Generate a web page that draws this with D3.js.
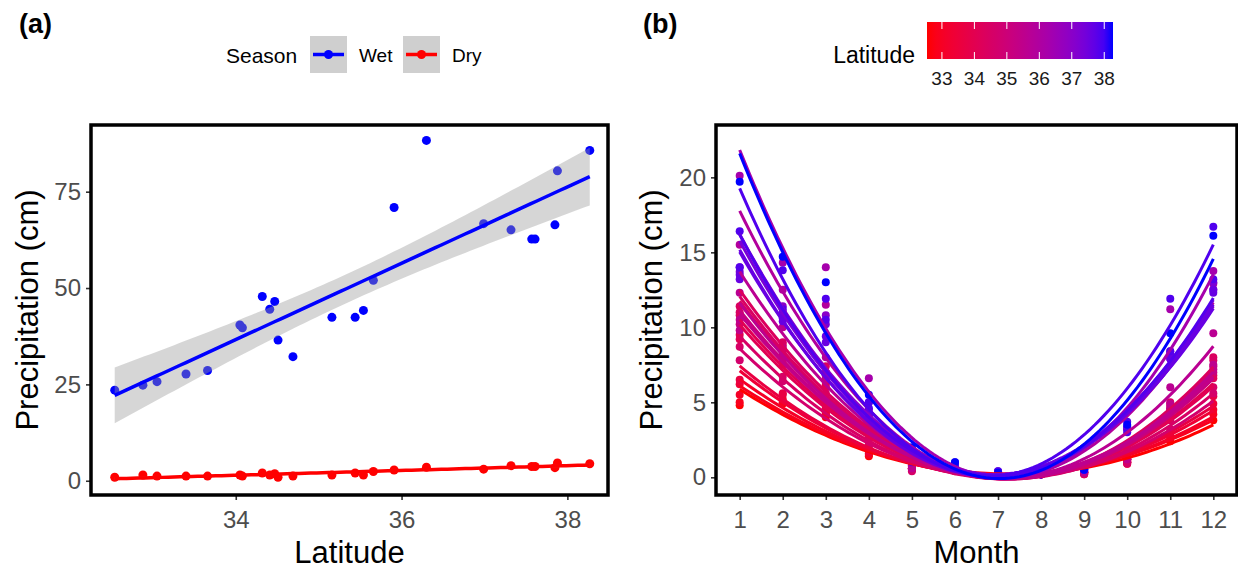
<!DOCTYPE html>
<html><head><meta charset="utf-8">
<script src="https://cdn.jsdelivr.net/npm/d3@7"></script>
<style>body{margin:0;background:#fff;} text{font-family:"Liberation Sans", Arial, sans-serif;}</style>
</head><body><svg id="chart" width="1238" height="575"></svg>
<script>
// ---------------- data ----------------
const latitude = [32.54, 32.88, 33.05, 33.40, 33.66, 34.05, 34.08, 34.32, 34.41, 34.47, 34.51, 34.69, 35.16,
                  35.44, 35.54, 35.66, 35.91, 36.30, 36.99, 37.32, 37.57, 37.61, 37.85, 37.88, 38.27];
const wetPrecip = [23.5, 24.8, 25.7, 27.7, 28.6, 40.4, 39.7, 47.8, 44.5, 46.5, 36.5, 32.2, 42.4,
                   42.4, 44.2, 52.0, 70.9, 88.3, 66.7, 65.1, 62.7, 62.7, 66.4, 80.4, 85.7];
const dryPrecip = [0.9, 1.5, 1.2, 1.2, 1.2, 1.5, 1.2, 2.0, 1.5, 1.8, 0.9, 1.2, 1.5,
                   2.0, 1.5, 2.4, 2.8, 3.5, 3.0, 3.9, 3.7, 3.7, 3.4, 4.6, 4.4];
const seasons = ["Wet", "Dry"];
const latTicks = [34, 36, 38];
const precipTicksA = [0, 25, 50, 75];
const months = [1, 2, 3, 4, 5, 6, 7, 8, 9, 10, 11, 12];
const precipTicksB = [0, 5, 10, 15, 20];
const colorbarTicks = [33, 34, 35, 36, 37, 38];
// monthly precipitation (cm), Jan..Dec, one row per station (same order as latitude)
const monthlyPrecip = [
  [4.8, 4.9, 4.0, 1.4, 0.5, 0.4, 0.3, 0.2, 0.3, 0.9, 2.4, 3.8],
  [5.0, 5.0, 4.2, 1.5, 0.7, 0.5, 0.3, 0.2, 0.3, 1.2, 2.6, 4.2],
  [5.5, 5.2, 4.3, 1.6, 0.6, 0.5, 0.3, 0.2, 0.2, 1.0, 2.7, 4.5],
  [6.2, 5.5, 4.4, 1.7, 0.5, 0.5, 0.3, 0.2, 0.3, 1.1, 2.9, 4.9],
  [6.5, 5.6, 4.6, 1.8, 0.6, 0.5, 0.3, 0.2, 0.3, 1.0, 3.0, 5.4],
  [9.5, 7.8, 6.2, 2.6, 0.7, 0.6, 0.3, 0.2, 0.3, 1.1, 4.2, 6.8],
  [9.2, 7.5, 6.0, 2.5, 0.6, 0.5, 0.3, 0.2, 0.3, 1.0, 4.1, 6.6],
  [11.4, 9.0, 7.4, 3.2, 0.9, 0.7, 0.3, 0.2, 0.4, 1.2, 5.0, 8.0],
  [10.8, 8.5, 6.8, 3.0, 0.6, 0.6, 0.3, 0.2, 0.3, 1.2, 4.6, 7.4],
  [11.0, 8.8, 7.0, 3.0, 0.8, 0.6, 0.3, 0.2, 0.3, 1.3, 4.8, 7.8],
  [8.7, 6.7, 5.6, 2.2, 0.4, 0.5, 0.3, 0.2, 0.2, 0.9, 3.8, 6.0],
  [7.8, 6.4, 5.0, 2.0, 0.5, 0.5, 0.3, 0.2, 0.3, 1.0, 3.2, 5.6],
  [10.2, 8.2, 6.5, 2.6, 0.6, 0.6, 0.3, 0.2, 0.3, 1.2, 4.5, 7.0],
  [9.8, 8.0, 6.6, 2.8, 0.8, 0.7, 0.3, 0.2, 0.4, 1.5, 4.6, 7.2],
  [10.5, 8.6, 6.8, 2.8, 0.6, 0.6, 0.3, 0.2, 0.3, 1.2, 4.9, 7.5],
  [12.3, 10.0, 8.0, 3.5, 1.0, 0.7, 0.3, 0.2, 0.4, 1.5, 6.0, 9.6],
  [15.5, 12.5, 11.5, 5.0, 1.0, 0.8, 0.3, 0.2, 0.5, 1.8, 8.4, 12.9],
  [20.1, 14.3, 14.0, 6.6, 1.2, 0.9, 0.3, 0.2, 0.5, 2.0, 11.2, 13.75],
  [14.0, 11.4, 10.8, 4.5, 1.2, 0.8, 0.3, 0.2, 0.5, 3.2, 7.9, 12.5],
  [13.7, 11.0, 10.2, 4.2, 1.3, 0.9, 0.4, 0.2, 0.6, 3.4, 8.2, 13.0],
  [13.5, 10.6, 9.0, 4.0, 1.2, 0.8, 0.3, 0.2, 0.5, 3.3, 8.0, 12.5],
  [13.2, 10.4, 9.4, 4.2, 1.3, 0.8, 0.3, 0.2, 0.5, 3.2, 7.9, 12.3],
  [14.0, 11.2, 10.5, 4.6, 1.0, 0.8, 0.3, 0.2, 0.5, 3.0, 8.4, 13.2],
  [16.4, 13.8, 11.9, 5.0, 1.5, 1.0, 0.4, 0.2, 0.6, 3.7, 11.9, 16.7],
  [19.7, 14.7, 13.0, 5.5, 2.0, 1.0, 0.3, 0.2, 0.5, 3.5, 9.6, 16.1]
];

// ---------------- helpers ----------------
const T975 = 2.0687; // t quantile, df = 23
function linFit(xs, ys) {
  const n = xs.length, xb = d3.mean(xs), yb = d3.mean(ys);
  let sxx = 0, sxy = 0;
  xs.forEach((x, i) => { sxx += (x - xb) ** 2; sxy += (x - xb) * (ys[i] - yb); });
  const b = sxy / sxx, a = yb - b * xb;
  let sse = 0; xs.forEach((x, i) => { sse += (ys[i] - a - b * x) ** 2; });
  const s = Math.sqrt(sse / (n - 2));
  return { f: x => a + b * x, se: x => s * Math.sqrt(1 / n + (x - xb) ** 2 / sxx) };
}
function quadFit(xs, ys) {
  const S = k => d3.sum(xs, x => x ** k);
  const Y = k => d3.sum(xs, (x, i) => ys[i] * x ** k);
  const M = [[S(0), S(1), S(2), Y(0)], [S(1), S(2), S(3), Y(1)], [S(2), S(3), S(4), Y(2)]];
  for (let i = 0; i < 3; i++) {
    for (let j = i + 1; j < 3; j++) {
      const r = M[j][i] / M[i][i];
      for (let k = i; k < 4; k++) M[j][k] -= r * M[i][k];
    }
  }
  const c = [0, 0, 0];
  for (let i = 2; i >= 0; i--) {
    let v = M[i][3];
    for (let k = i + 1; k < 3; k++) v -= M[i][k] * c[k];
    c[i] = v / M[i][i];
  }
  return x => c[0] + c[1] * x + c[2] * x * x;
}

const svg = d3.select("#chart");
const FONT = "'Liberation Sans', Arial, sans-serif";
const tickCol = "#4D4D4D";

function drawAxes(g, x, y, xt, yt, L, R, T, B, xTitle, yTitleX) {
  const xa = d3.axisBottom(x).tickValues(xt).tickSize(5).tickPadding(6).tickFormat(d3.format("d"));
  const ya = d3.axisLeft(y).tickValues(yt).tickSize(5).tickPadding(5).tickFormat(d3.format("d"));
  const gx = g.append("g").attr("transform", `translate(0,${B})`).call(xa);
  const gy = g.append("g").attr("transform", `translate(${L},0)`).call(ya);
  [gx, gy].forEach(a => {
    a.select(".domain").remove();
    a.selectAll(".tick line").attr("stroke", "#333").attr("stroke-width", 1.6);
    a.selectAll(".tick text").attr("fill", tickCol).style("font-size", "24px").style("font-family", FONT);
  });
  gx.selectAll(".tick text").attr("dy", "0.9em");
  g.append("rect").attr("x", L).attr("y", T).attr("width", R - L).attr("height", B - T)
    .attr("fill", "none").attr("stroke", "#000").attr("stroke-width", 3.5);
  g.append("text").attr("x", (L + R) / 2).attr("y", 563).attr("text-anchor", "middle")
    .style("font-size", "31px").attr("fill", "#000").text(xTitle);
  g.append("text").attr("transform", `translate(${yTitleX},${(T + B) / 2}) rotate(-90)`)
    .attr("text-anchor", "middle").attr("dy", "0.35em")
    .style("font-size", "31px").attr("fill", "#000").text("Precipitation (cm)");
}

// ---------------- panel (a) ----------------
{
  const L = 91, R = 608, T = 125, B = 495;
  const x = d3.scaleLinear().domain([32.254, 38.49]).range([L, R]);
  const y = d3.scaleLinear().domain([-3.7, 92.3]).range([B, T]);
  const g = svg.append("g");
  const seriesVals = [wetPrecip, dryPrecip];
  const seriesCol = ["#0000FF", "#FF0000"];
  const lx = d3.extent(latitude);
  const xsLine = d3.range(0, 81).map(i => lx[0] + (lx[1] - lx[0]) * i / 80);
  seriesVals.forEach((vals, si) => {
    g.selectAll(null).data(latitude).enter().append("circle")
      .attr("cx", d => x(d)).attr("cy", (d, i) => y(vals[i])).attr("r", 4.5)
      .attr("fill", seriesCol[si]);
  });
  seriesVals.forEach((vals, si) => {
    const fit = linFit(latitude, vals);
    const area = d3.area().x(d => x(d)).y0(d => y(fit.f(d) - T975 * fit.se(d))).y1(d => y(fit.f(d) + T975 * fit.se(d)));
    g.append("path").attr("d", area(xsLine)).attr("fill", "rgb(153,153,153)").attr("fill-opacity", 0.4);
    const line = d3.line().x(d => x(d)).y(d => y(fit.f(d)));
    g.append("path").attr("d", line(xsLine)).attr("fill", "none").attr("stroke", seriesCol[si]).attr("stroke-width", 3.5);
  });
  drawAxes(g, x, y, latTicks, precipTicksA, L, R, T, B, "Latitude", 27);

  svg.append("text").attr("x", 19).attr("y", 33).style("font-size", "27px").style("font-weight", "bold").text("(a)");
  const lg = svg.append("g");
  lg.append("text").attr("x", 226).attr("y", 63).style("font-size", "21px").attr("fill", "#000").text("Season");
  const keyX = [310, 403], labX = [359, 452];
  seasons.forEach((s, i) => {
    lg.append("rect").attr("x", keyX[i]).attr("y", 36).attr("width", 37).attr("height", 37).attr("fill", "#cfcfcf");
    lg.append("line").attr("x1", keyX[i] + 3).attr("x2", keyX[i] + 34).attr("y1", 54.5).attr("y2", 54.5)
      .attr("stroke", seriesCol[i]).attr("stroke-width", 3.5);
    lg.append("circle").attr("cx", keyX[i] + 18.5).attr("cy", 54.5).attr("r", 4.5).attr("fill", seriesCol[i]);
    lg.append("text").attr("x", labX[i]).attr("y", 61.5).style("font-size", "19px").attr("fill", "#000").text(s);
  });
}

// ---------------- panel (b) ----------------
{
  const L = 716, R = 1237, T = 125, B = 495;
  const x = d3.scaleLinear().domain([0.45, 12.55]).range([L, R]);
  const y = d3.scaleLinear().domain([-1.18, 23.49]).range([B, T]);
  const latExt = d3.extent(latitude);
  const col = d3.scaleLinear().domain(latExt).range(["#FF0000", "#0000FF"]).interpolate(d3.interpolateLab);
  const g = svg.append("g");
  monthlyPrecip.forEach((row, si) => {
    g.selectAll(null).data(months).enter().append("circle")
      .attr("cx", d => x(d)).attr("cy", (d, i) => y(row[i])).attr("r", 4)
      .attr("fill", col(latitude[si]));
  });
  const xsLine = d3.range(0, 101).map(i => 1 + 11 * i / 100);
  monthlyPrecip.forEach((row, si) => {
    const f = quadFit(months, row);
    const line = d3.line().x(d => x(d)).y(d => y(f(d)));
    g.append("path").attr("d", line(xsLine)).attr("fill", "none")
      .attr("stroke", col(latitude[si])).attr("stroke-width", 3);
  });
  drawAxes(g, x, y, months, precipTicksB, L, R, T, B, "Month", 651);

  svg.append("text").attr("x", 643).attr("y", 33).style("font-size", "27px").style("font-weight", "bold").text("(b)");

  const cb = svg.append("g");
  const cbx = d3.scaleLinear().domain(latExt).range([927, 1113]);
  const defs = svg.append("defs");
  const grad = defs.append("linearGradient").attr("id", "latgrad").attr("x1", "0%").attr("x2", "100%");
  d3.range(0, 21).forEach(i => {
    const t = i / 20;
    grad.append("stop").attr("offset", `${t * 100}%`).attr("stop-color", col(latExt[0] + t * (latExt[1] - latExt[0])));
  });
  cb.append("rect").attr("x", 927).attr("y", 22).attr("width", 186).attr("height", 37).attr("fill", "url(#latgrad)");
  colorbarTicks.forEach(v => {
    cb.append("line").attr("x1", cbx(v)).attr("x2", cbx(v)).attr("y1", 22).attr("y2", 29).attr("stroke", "#fff").attr("stroke-width", 1);
    cb.append("line").attr("x1", cbx(v)).attr("x2", cbx(v)).attr("y1", 52).attr("y2", 59).attr("stroke", "#fff").attr("stroke-width", 1);
    cb.append("text").attr("x", cbx(v)).attr("y", 85).attr("text-anchor", "middle").style("font-size", "19px").attr("fill", "#1a1a1a").text(v);
  });
  cb.append("text").attr("x", 915).attr("y", 63).attr("text-anchor", "end").style("font-size", "23px").attr("fill", "#000").text("Latitude");
}
</script></body></html>
